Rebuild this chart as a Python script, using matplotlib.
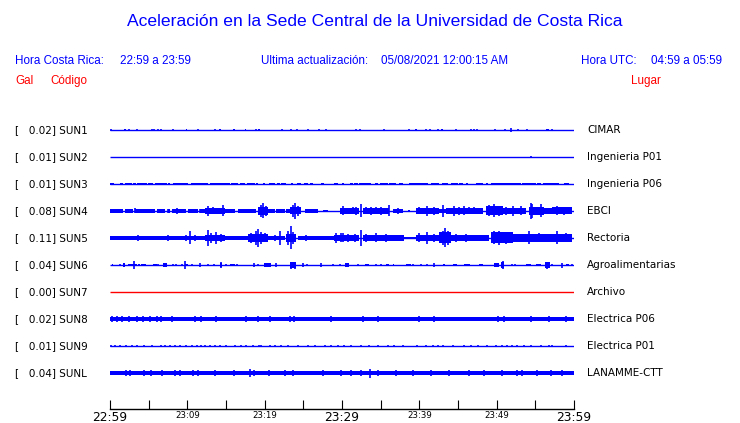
import matplotlib.pyplot as plt

# ---------------------------------
# datos: estaciones y valores máximos (gal)
# ---------------------------------
CODES = ["SUN1", "SUN2", "SUN3", "SUN4", "SUN5", "SUN6", "SUN7", "SUN8", "SUN9", "SUNL"]
PEAKS = [0.02, 0.01, 0.01, 0.08, 0.11, 0.04, 0.00, 0.02, 0.01, 0.04]
PLACES = ["CIMAR", "Ingenieria P01", "Ingenieria P06", "EBCI", "Rectoria",
          "Agroalimentarias", "Archivo", "Electrica P06", "Electrica P01", "LANAMME-CTT"]

# eje de tiempo (minutos desde las 22:59)
TICK_MIN = [0, 5, 10, 15, 20, 25, 30, 35, 40, 45, 50, 55, 60]
TICK_LABELS = ["22:59", "", "23:09", "", "23:19", "", "23:29", "", "23:39", "", "23:49", "", "23:59"]
BIG_LABELS = ["22:59", "23:29", "23:59"]

# envolventes: bandas (t0, t1, semiamplitud gal) y picos (t, semiamplitud gal)
SUN1_BANDS = [(1.85, 2.05, 0.012), (9.8, 10.0, 0.012), (14.1, 14.35, 0.012), (15.9, 16.1, 0.012),
              (17.45, 17.65, 0.012), (19.15, 19.4, 0.012), (39.45, 39.7, 0.012), (42.85, 43.0, 0.01),
              (56.4, 56.8, 0.012)]
SUN1_SPIKES = [(0.13, 0.012), (2.49, 0.008), (3.53, 0.008), (5.38, 0.012), (5.68, 0.012), (6.24, 0.012),
               (6.58, 0.012), (8.09, 0.012), (11.4, 0.008), (13.55, 0.008), (18.92, 0.012), (22.24, 0.012),
               (23.44, 0.012), (24.17, 0.008), (25.59, 0.012), (27.01, 0.012), (27.91, 0.008), (31.83, 0.008),
               (32.3, 0.012), (35.4, 0.012), (38.62, 0.012), (40.86, 0.008), (41.38, 0.008), (42.37, 0.008),
               (44.73, 0.008), (46.67, 0.012), (47.01, 0.012), (47.4, 0.012), (49.76, 0.012), (51.05, 0.012),
               (51.83, 0.02), (52.82, 0.012), (53.98, 0.008), (57.2, 0.008)]

SUN2_BANDS = []
SUN2_SPIKES = [(54.5, 0.005)]

SUN3_BANDS = [(0.0, 0.56, 0.014), (1.29, 1.72, 0.014), (1.94, 2.8, 0.014), (3.01, 3.31, 0.011),
              (3.53, 4.73, 0.014), (4.95, 5.59, 0.014), (5.81, 7.31, 0.014), (7.53, 7.74, 0.011),
              (8.17, 10.11, 0.014), (10.45, 12.69, 0.014), (12.9, 15.48, 0.014), (15.7, 16.56, 0.014),
              (16.77, 17.42, 0.014), (17.72, 18.71, 0.014), (18.92, 19.14, 0.011), (19.79, 20.0, 0.011),
              (20.56, 21.29, 0.014), (21.59, 21.94, 0.011), (22.15, 22.8, 0.014), (23.44, 23.66, 0.011),
              (24.22, 24.73, 0.014), (25.03, 25.59, 0.011), (25.81, 26.24, 0.011), (27.31, 27.66, 0.011),
              (29.03, 29.46, 0.011), (29.98, 30.32, 0.011), (30.97, 31.4, 0.014), (31.61, 32.04, 0.011),
              (32.26, 33.76, 0.014), (34.28, 34.62, 0.014), (34.97, 35.91, 0.014), (36.13, 36.99, 0.014),
              (37.33, 37.85, 0.014), (38.71, 41.08, 0.014), (41.51, 42.58, 0.014), (42.88, 43.66, 0.014),
              (44.09, 44.95, 0.014), (45.16, 45.59, 0.014), (46.02, 46.24, 0.011), (47.31, 48.17, 0.014),
              (48.6, 48.82, 0.011), (49.25, 53.12, 0.014), (53.33, 55.05, 0.014), (55.27, 55.7, 0.014),
              (56.04, 58.06, 0.014), (58.71, 59.35, 0.014)]
SUN3_SPIKES = []

SUN4_BANDS = [(0.0, 1.72, 0.021), (1.94, 3.01, 0.021), (3.23, 5.81, 0.021), (6.11, 7.1, 0.021),
              (7.53, 7.74, 0.017), (7.96, 9.89, 0.021), (10.11, 11.4, 0.021), (11.61, 12.26, 0.021),
              (12.26, 14.84, 0.027), (14.84, 16.13, 0.018), (16.56, 18.92, 0.021), (19.14, 20.43, 0.04),
              (20.43, 21.29, 0.022), (21.5, 22.58, 0.021), (22.8, 23.23, 0.022), (23.23, 24.73, 0.035),
              (25.16, 26.88, 0.021), (27.53, 28.17, 0.014), (29.68, 32.26, 0.032), (32.69, 36.05, 0.027),
              (36.56, 37.85, 0.022), (38.5, 38.75, 0.012), (39.57, 42.58, 0.027), (42.58, 43.44, 0.022),
              (43.44, 48.17, 0.027), (48.6, 50.76, 0.045), (50.76, 53.77, 0.032), (54.2, 56.13, 0.04),
              (56.13, 57.21, 0.027), (57.21, 59.79, 0.035)]
SUN4_SPIKES = [(3.23, 0.025), (6.88, 0.02), (7.53, 0.02), (8.6, 0.03), (10.88, 0.022), (11.61, 0.022),
               (12.69, 0.05), (13.33, 0.035), (13.98, 0.03), (14.62, 0.055), (19.57, 0.06), (19.78, 0.075),
               (20.22, 0.05), (23.66, 0.06), (23.87, 0.08), (24.3, 0.05), (30.11, 0.045), (31.4, 0.035),
               (31.83, 0.04), (32.48, 0.065), (33.12, 0.035), (33.77, 0.04), (34.41, 0.035), (35.06, 0.04),
               (36.05, 0.055), (37.21, 0.03), (40.0, 0.035), (40.95, 0.05), (41.94, 0.04), (43.01, 0.06),
               (44.52, 0.05), (45.16, 0.04), (45.81, 0.045), (46.45, 0.035), (47.1, 0.035), (49.04, 0.055),
               (49.68, 0.065), (50.32, 0.05), (51.19, 0.04), (52.05, 0.05), (53.12, 0.045), (54.41, 0.08),
               (54.63, 0.07), (55.7, 0.065), (57.85, 0.045), (58.71, 0.04)]

SUN5_BANDS = [(0.0, 1.94, 0.021), (1.94, 12.26, 0.018), (12.26, 14.84, 0.035), (14.84, 17.85, 0.021),
              (17.85, 20.43, 0.04), (20.43, 22.58, 0.022), (22.8, 24.09, 0.04), (24.3, 29.03, 0.021),
              (29.03, 32.26, 0.035), (32.69, 38.07, 0.03), (38.07, 39.57, 0.01), (39.57, 42.58, 0.035),
              (42.58, 44.09, 0.055), (44.09, 49.04, 0.03), (49.25, 52.05, 0.055), (52.05, 59.79, 0.04)]
SUN5_SPIKES = [(3.66, 0.03), (4.73, 0.025), (7.1, 0.025), (7.53, 0.03), (8.17, 0.025), (9.46, 0.025),
               (9.89, 0.035), (10.32, 0.065), (10.97, 0.03), (12.69, 0.08), (13.12, 0.05), (13.76, 0.06),
               (14.41, 0.04), (15.48, 0.025), (16.34, 0.025), (16.99, 0.025), (18.28, 0.05), (18.92, 0.07),
               (19.14, 0.09), (19.57, 0.06), (20.0, 0.045), (21.29, 0.03), (21.94, 0.07), (23.01, 0.07),
               (23.35, 0.115), (23.66, 0.06), (25.38, 0.035), (29.25, 0.05), (29.89, 0.045), (30.11, 0.045),
               (30.75, 0.04), (31.62, 0.04), (32.48, 0.08), (33.12, 0.04), (34.41, 0.045), (35.7, 0.04),
               (37.21, 0.035), (40.0, 0.045), (40.95, 0.06), (41.94, 0.04), (43.01, 0.07), (43.36, 0.095),
               (43.66, 0.07), (44.73, 0.04), (46.02, 0.04), (47.31, 0.035), (49.68, 0.065), (50.32, 0.07),
               (51.19, 0.06), (54.2, 0.065), (55.49, 0.045), (57.85, 0.065), (58.93, 0.045)]

SUN6_BANDS = [(0.22, 0.43, 0.012), (1.72, 1.94, 0.02), (2.28, 3.44, 0.015), (3.66, 3.87, 0.012),
              (4.0, 4.6, 0.012), (5.5, 6.02, 0.012), (6.8, 7.31, 0.02), (9.68, 10.11, 0.015),
              (14.19, 14.5, 0.025), (15.48, 16.13, 0.012), (19.91, 20.86, 0.02), (23.23, 24.09, 0.03),
              (30.33, 30.88, 0.02), (32.91, 33.46, 0.012), (35.7, 36.05, 0.012), (36.56, 36.78, 0.012),
              (38.28, 38.93, 0.012), (43.01, 43.36, 0.012), (44.3, 44.82, 0.012), (45.81, 46.54, 0.012),
              (47.66, 48.17, 0.015), (49.68, 50.32, 0.02), (50.5, 50.97, 0.035), (53.77, 54.41, 0.012),
              (55.06, 55.7, 0.015), (56.26, 56.86, 0.03), (58.93, 59.36, 0.015)]
SUN6_SPIKES = [(1.29, 0.01), (3.14, 0.04), (6.24, 0.01), (8.09, 0.01), (8.52, 0.008), (9.25, 0.01),
               (9.68, 0.04), (10.62, 0.012), (11.7, 0.02), (12.69, 0.01), (13.46, 0.008), (14.32, 0.03),
               (15.05, 0.012), (16.43, 0.01), (18.62, 0.02), (19.14, 0.012), (21.5, 0.02), (23.44, 0.035),
               (23.87, 0.035), (24.95, 0.02), (25.5, 0.012), (27.31, 0.02), (28.82, 0.012), (29.68, 0.012),
               (32.05, 0.01), (34.41, 0.01), (35.06, 0.01), (39.14, 0.01), (40.22, 0.01), (40.95, 0.012),
               (41.94, 0.02), (50.76, 0.04), (51.96, 0.012), (52.39, 0.012), (56.56, 0.035), (57.21, 0.012),
               (58.5, 0.025), (59.79, 0.012)]

SUN7_BANDS = []
SUN7_SPIKES = []

SUN8_BANDS = [(0.0, 60.0, 0.023)]
SUN8_SPIKES = [(0.3, 0.03), (0.86, 0.034), (1.6, 0.03), (2.4, 0.03), (3.44, 0.032), (4.3, 0.03), (5.2, 0.03),
               (6.02, 0.034), (6.6, 0.03), (7.96, 0.032), (10.97, 0.032), (11.83, 0.03),
               (13.76, 0.028), (17.63, 0.028), (19.14, 0.028), (20.73, 0.03), (23.31, 0.028), (23.79, 0.03),
               (28.6, 0.032), (32.69, 0.028), (34.62, 0.03), (40.0, 0.03), (41.85, 0.028), (50.11, 0.032),
               (50.97, 0.028), (54.41, 0.032), (56.77, 0.028), (58.92, 0.03)]

SUN9_BANDS = []
SUN9_SPIKES = [(0.13, 0.01), (0.65, 0.008), (1.29, 0.008), (2.11, 0.01), (2.8, 0.008), (3.44, 0.01),
               (4.34, 0.012), (5.46, 0.01), (6.54, 0.012), (7.1, 0.008), (7.74, 0.01), (8.39, 0.008),
               (9.03, 0.008), (9.89, 0.01), (10.54, 0.008), (11.31, 0.01), (11.83, 0.008), (12.26, 0.008),
               (12.9, 0.01), (13.55, 0.008), (14.19, 0.008), (15.05, 0.008), (16.22, 0.01), (16.99, 0.008),
               (17.63, 0.008), (18.49, 0.012), (19.23, 0.008), (19.57, 0.008), (20.65, 0.008), (21.29, 0.008),
               (22.06, 0.008), (23.01, 0.008), (24.3, 0.008), (25.59, 0.01), (26.45, 0.008), (27.74, 0.01),
               (28.6, 0.008), (29.46, 0.008), (30.32, 0.008), (31.18, 0.008), (32.47, 0.01), (33.55, 0.008),
               (34.71, 0.01), (35.91, 0.008), (36.77, 0.008), (37.85, 0.008), (39.66, 0.012), (40.86, 0.008),
               (41.72, 0.008), (42.37, 0.008), (43.01, 0.008), (44.3, 0.012), (45.81, 0.008), (46.67, 0.008),
               (47.53, 0.01), (48.73, 0.012), (49.89, 0.008), (50.75, 0.008), (51.4, 0.008), (52.04, 0.01),
               (52.69, 0.008), (53.55, 0.008), (54.49, 0.01), (55.7, 0.01), (56.77, 0.008), (57.2, 0.008),
               (58.92, 0.01)]

SUNL_BANDS = [(0.0, 60.0, 0.022)]
SUNL_SPIKES = [(2.02, 0.03), (2.58, 0.028), (4.43, 0.028), (5.29, 0.028), (6.67, 0.028), (8.39, 0.028),
               (9.03, 0.026), (10.75, 0.028), (11.4, 0.026), (13.55, 0.028), (16.04, 0.028), (18.15, 0.04),
               (18.62, 0.028), (20.56, 0.028), (22.58, 0.026), (23.66, 0.028), (27.53, 0.028), (29.89, 0.026),
               (31.18, 0.028), (32.47, 0.03), (33.68, 0.045), (34.62, 0.026), (36.99, 0.026), (39.14, 0.028),
               (41.51, 0.026), (43.87, 0.026), (46.45, 0.028), (48.39, 0.028), (50.75, 0.028), (52.69, 0.028),
               (53.33, 0.026), (55.27, 0.028), (56.99, 0.026), (58.49, 0.028)]

BANDS = [SUN1_BANDS, SUN2_BANDS, SUN3_BANDS, SUN4_BANDS, SUN5_BANDS,
         SUN6_BANDS, SUN7_BANDS, SUN8_BANDS, SUN9_BANDS, SUNL_BANDS]
SPIKES = [SUN1_SPIKES, SUN2_SPIKES, SUN3_SPIKES, SUN4_SPIKES, SUN5_SPIKES,
          SUN6_SPIKES, SUN7_SPIKES, SUN8_SPIKES, SUN9_SPIKES, SUNL_SPIKES]

# ---------------------------------
# figura
# ---------------------------------
W, H = 740, 423
BLUE = "#0000ff"
RED = "#ff0000"
HEAD_FONT = ["Liberation Sans", "DejaVu Sans"]

fig = plt.figure(figsize=(W / 100, H / 100), dpi=100)

# eje de trazas: x 110..574 px, y 115..409 px (1 gal = 100 px)
AX_TOP, AX_BOT = 115, 409
ax = fig.add_axes([110 / W, (H - AX_BOT) / H, 464 / W, (AX_BOT - AX_TOP) / H])
ax.set_xlim(TICK_MIN[0], TICK_MIN[-1])
ax.set_ylim(0, (AX_BOT - AX_TOP) / 100)

ROW0, STEP = 130, 27  # px
for i, code in enumerate(CODES):
    y0 = (AX_BOT - (ROW0 + STEP * i)) / 100
    color = RED if PEAKS[i] == 0 else BLUE
    ax.plot([TICK_MIN[0], TICK_MIN[-1]], [y0, y0], color=color, lw=1.0, solid_capstyle="butt")
    for t0, t1, h in BANDS[i]:
        ax.fill_between([t0, t1], y0 - h, y0 + h, color=color, lw=0)
    for t, h in SPIKES[i]:
        ax.vlines(t, y0 - h, y0 + h, color=color, lw=1.2)

    ypx = 1 - (ROW0 + STEP * i) / H
    fig.text(15 / W, ypx, f"[   {PEAKS[i]:.2f}] {code}", fontsize=7.5, va="center", ha="left")
    fig.text(587 / W, ypx, PLACES[i], fontsize=7.5, va="center", ha="left")

for s in ["top", "left", "right"]:
    ax.spines[s].set_visible(False)
ax.spines["bottom"].set_linewidth(1.0)
ax.set_yticks([])
ax.set_xticks(TICK_MIN)
ax.set_xticklabels(TICK_LABELS)
ax.tick_params(axis="x", direction="in", length=6.5, width=0.8, pad=1.5, labelsize=8.8)
for lbl in ax.get_xticklabels():
    if lbl.get_text() not in BIG_LABELS:
        lbl.set_fontsize(6.2)

# ---------------------------------
# encabezado
# ---------------------------------
def put(x, y, s, color=BLUE, size=8.4, ha="left"):
    fig.text(x / W, 1 - y / H, s, color=color, fontsize=size, ha=ha, va="center", family=HEAD_FONT)

put(375, 21, "Aceleración en la Sede Central de la Universidad de Costa Rica", size=12.6, ha="center")
put(15, 61, "Hora Costa Rica:")
put(120, 61, "22:59 a 23:59")
put(261, 61, "Ultima actualización:")
put(381, 61, "05/08/2021 12:00:15 AM")
put(581, 61, "Hora UTC:")
put(651, 61, "04:59 a 05:59")
put(15, 81, "Gal", color=RED)
put(50, 81, "Código", color=RED)
put(631, 81, "Lugar", color=RED)

fig.savefig("out.png", dpi=100)
